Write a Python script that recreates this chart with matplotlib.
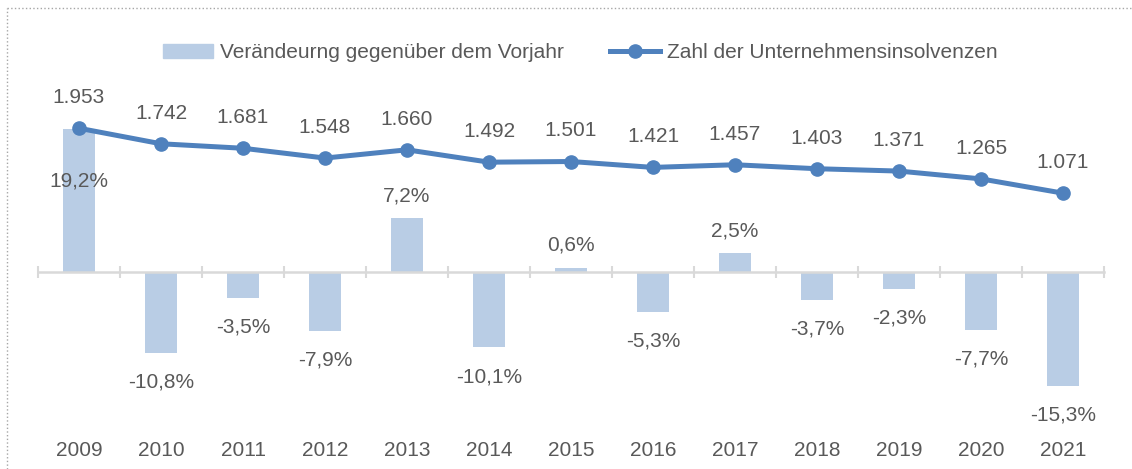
import numpy as np
import matplotlib
matplotlib.use("Agg")
from matplotlib import pyplot as plt
from matplotlib.lines import Line2D
import matplotlib.transforms as mtrans

# Daten
years = ['2009', '2010', '2011', '2012', '2013', '2014', '2015',
         '2016', '2017', '2018', '2019', '2020', '2021']
change = [19.2, -10.8, -3.5, -7.9, 7.2, -10.1, 0.6, -5.3, 2.5, -3.7, -2.3, -7.7, -15.3]
insolv = [1953, 1742, 1681, 1548, 1660, 1492, 1501, 1421, 1457, 1403, 1371, 1265, 1071]

bar_name = 'Verändeurng gegenüber dem Vorjahr'
line_name = 'Zahl der Unternehmensinsolvenzen'

plt.rcParams['font.family'] = ['Liberation Sans', 'DejaVu Sans']
txt_col = '#595959'
bar_col = '#B9CDE5'
line_col = '#4F81BD'
fs = 15

W, H = 1132, 469
fig = plt.figure(figsize=(W / 100, H / 100), dpi=100)
ax = fig.add_axes([38 / W, 1 - 430 / H, (1104 - 38) / W, 390 / H])
ax2 = ax.twinx()

x = np.arange(len(years))
ax.bar(x, change, width=0.39, color=bar_col, zorder=2)
ax2.plot(x, insolv, color=line_col, lw=3.6, marker='o', ms=9.5, zorder=3)

ax.set_xlim(-0.5, len(years) - 0.5)
ax.set_ylim(-21.15, 31.06)
ax2.set_ylim(-2147, 3152)

# Achse bei 0 mit Strichen zwischen den Kategorien
for a in (ax, ax2):
    for s in a.spines.values():
        s.set_visible(False)
    a.set_yticks([])
ax.spines['bottom'].set_visible(True)
ax.spines['bottom'].set_position(('data', 0))
ax.spines['bottom'].set_color('#D9D9D9')
ax.spines['bottom'].set_linewidth(1.8)
ax.set_xticks(x)
ax.set_xticklabels([])
ax.tick_params(axis='x', which='major', length=0)
ax.set_xticks(np.arange(len(years) + 1) - 0.5, minor=True)
ax.tick_params(axis='x', which='minor', length=9, width=1.5, color='#D9D9D9', direction='inout')

# Jahreszahlen unten
trans = mtrans.blended_transform_factory(ax.transData, fig.transFigure)
for xi, yr in zip(x, years):
    ax.text(xi, 1 - 450 / H, yr, transform=trans, ha='center', va='center',
            fontsize=fs, color=txt_col)

# Beschriftungen
for xi, v in zip(x, change):
    lab = f'{v:.1f}%'.replace('.', ',')
    if xi == 0:
        off = -38
    elif v >= 0:
        off = 16
    else:
        off = -21
    ax.annotate(lab, (xi, v), xytext=(0, off), textcoords='offset points',
                ha='center', va='center', fontsize=fs, color=txt_col, zorder=4)

for xi, v in zip(x, insolv):
    ax2.annotate(f'{v:,}'.replace(',', '.'), (xi, v), xytext=(0, 22),
                 textcoords='offset points', ha='center', va='center',
                 fontsize=fs, color=txt_col)

# Legende
handles = [plt.Rectangle((0, 0), 1, 1, color=bar_col),
           Line2D([], [], color=line_col, lw=3.6, marker='o', ms=9.5)]
leg = fig.legend(handles, [bar_name, line_name], loc='center', ncol=2,
                 bbox_to_anchor=(580 / W, 1 - 53 / H), frameon=False,
                 fontsize=fs, handlelength=2.4, handleheight=0.62,
                 handletextpad=0.35, columnspacing=2.2)
for t in leg.get_texts():
    t.set_color(txt_col)

# gepunkteter Rahmen
fig.add_artist(Line2D([7 / W, 1], [1 - 8 / H, 1 - 8 / H], transform=fig.transFigure,
                      color='#A6A6A6', lw=1, ls=':'))
fig.add_artist(Line2D([7 / W, 7 / W], [0, 1 - 8 / H], transform=fig.transFigure,
                      color='#A6A6A6', lw=1, ls=':'))

fig.savefig('out.png', dpi=100)
